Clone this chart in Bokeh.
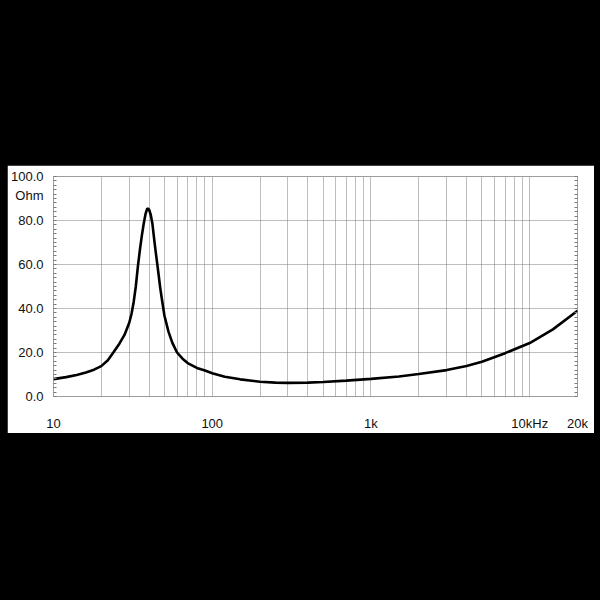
from bokeh.plotting import figure
from bokeh.models import Range1d, FixedTicker, LinearAxis, Spacer
from bokeh.layouts import column, row
from bokeh.embed import file_html
from bokeh.resources import INLINE

# impedance curve
freq_hz = [10, 12, 14, 16, 18, 20, 22, 24, 26, 28, 30, 31, 32, 33, 34, 35, 36, 37, 38, 39,
           40, 41, 42, 43, 44, 45, 46, 47, 48, 50, 53, 56, 60, 65, 70, 80, 90, 100, 120, 150,
           200, 250, 300, 400, 500, 700, 1000, 1500, 2000, 3000, 4000, 5000, 7000, 10000,
           14000, 20000]
impedance_ohm = [7.9, 8.8, 9.8, 10.9, 12.2, 13.8, 16.5, 20.3, 24.0, 28.0, 33.5, 37.5, 43.0, 50.0,
                 59.0, 66.5, 73.0, 78.5, 83.0, 85.5, 85.0, 82.5, 78.5, 72.0, 66.0, 60.5, 55.0,
                 49.5, 45.0, 36.7, 29.5, 24.5, 20.0, 17.2, 15.2, 13.0, 11.8, 10.6, 9.0, 7.8,
                 6.7, 6.3, 6.2, 6.3, 6.6, 7.2, 8.0, 9.1, 10.2, 12.0, 13.9, 15.8, 19.7, 24.3,
                 30.5, 39.0]

x_ticks = [10, 100, 1000, 10000, 20000]
x_tick_labels = ["10", "100", "1k", "10kHz", "20k"]
x_grid = [20, 30, 40, 50, 60, 70, 80, 90, 100, 200, 300, 400, 500, 600, 700, 800, 900,
          1000, 2000, 3000, 4000, 5000, 6000, 7000, 8000, 9000, 10000]
y_ticks = [0, 20, 40, 60, 80, 100]
y_tick_labels = ["0.0", "20.0", "40.0", "60.0", "80.0", "100.0"]
y_minor = list(range(0, 101, 2))
y_unit = "Ohm"
y_unit_pos = 91.5

FONT = "Liberation Sans"
GRID = "#7a7a7a"
TXT = "#111111"

p = figure(width=587, height=268, x_axis_type="log",
           x_range=Range1d(10, 20000), y_range=Range1d(0, 100),
           output_backend="svg", toolbar_location=None,
           min_border_left=45, min_border_right=17, min_border_top=11, min_border_bottom=32,
           background_fill_color="white", border_fill_color="white")

p.outline_line_color = GRID
p.outline_line_dash = "1 1"

# grids
p.xgrid.ticker = FixedTicker(ticks=x_grid)
p.xgrid.grid_line_color = GRID
p.xgrid.grid_line_dash = "1 1"
p.ygrid.ticker = FixedTicker(ticks=y_ticks)
p.ygrid.grid_line_color = GRID
p.ygrid.grid_line_dash = "1 1"

# x axis
xa = p.xaxis[0]
xa.ticker = FixedTicker(ticks=x_ticks)
xa.major_label_overrides = {t: l for t, l in zip(x_ticks, x_tick_labels)}
xa.axis_line_color = None
xa.major_tick_line_color = None
xa.minor_tick_line_color = None
xa.major_label_standoff = 13
xa.major_label_text_font = FONT
xa.major_label_text_font_size = "13px"
xa.major_label_text_color = TXT

# left y axis: labels (plus unit) and small inward minor ticks
ya = p.yaxis[0]
ya.ticker = FixedTicker(ticks=y_ticks + [y_unit_pos], minor_ticks=y_minor)
overrides = {v: t for v, t in zip(y_ticks, y_tick_labels)}
overrides[y_unit_pos] = y_unit
ya.major_label_overrides = overrides
ya.axis_line_color = None
ya.major_tick_line_color = None
ya.major_tick_in = 0
ya.major_tick_out = 0
ya.major_label_standoff = 10
ya.major_label_text_font = FONT
ya.major_label_text_font_size = "13px"
ya.major_label_text_color = TXT
ya.minor_tick_in = 3
ya.minor_tick_out = 0
ya.minor_tick_line_color = GRID

# right y axis: minor ticks only
ra = LinearAxis(ticker=FixedTicker(ticks=[], minor_ticks=y_minor),
                axis_line_color=None, major_tick_line_color=None,
                minor_tick_in=3, minor_tick_out=0, minor_tick_line_color=GRID)
p.add_layout(ra, "right")

p.line(freq_hz, impedance_ohm, line_color="black", line_width=2.6)

layout = column(Spacer(width=594, height=165), row(Spacer(width=7, height=268), p, spacing=0),
                spacing=0)

html = file_html(layout, INLINE)
i = html.rfind("<body")
html = html[:i] + '<body style="background-color:#000000;"' + html[i + 5:]
open("out.html", "w").write(html)
